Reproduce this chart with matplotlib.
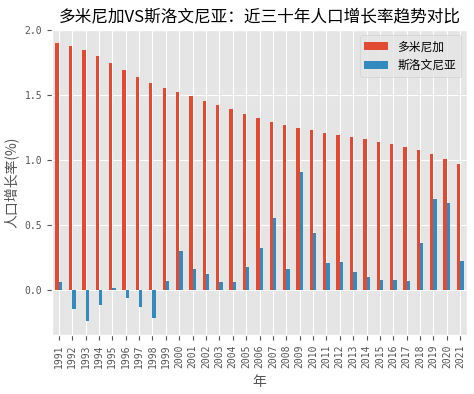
import numpy as np
import matplotlib
matplotlib.use("Agg")
import matplotlib.pyplot as plt

plt.style.use("ggplot")
plt.rcParams['font.family'] = ['Noto Sans CJK SC', 'DejaVu Sans']
plt.rcParams['axes.unicode_minus'] = False

years = list(range(1991, 2022))
dominica = [1.904, 1.884, 1.850, 1.804, 1.751, 1.697, 1.644, 1.598, 1.557, 1.524,
            1.491, 1.460, 1.427, 1.394, 1.358, 1.325, 1.297, 1.269, 1.249, 1.231,
            1.211, 1.193, 1.175, 1.160, 1.142, 1.124, 1.104, 1.081, 1.047, 1.009,
            0.973]
slovenia = [0.064, -0.145, -0.237, -0.115, 0.018, -0.064, -0.135, -0.217, 0.071, 0.296,
            0.158, 0.125, 0.061, 0.064, 0.173, 0.320, 0.558, 0.158, 0.905, 0.436,
            0.209, 0.212, 0.135, 0.099, 0.076, 0.074, 0.066, 0.364, 0.698, 0.673,
            0.219]

fig, ax = plt.subplots(figsize=(4.74, 3.94), dpi=100)
fig.subplots_adjust(left=0.11, right=0.985, top=0.925, bottom=0.15)

x = np.arange(len(years))
w = 0.25
ax.bar(x - w / 2, dominica, w, color='#E24A33', label='多米尼加')
ax.bar(x + w / 2, slovenia, w, color='#348ABD', label='斯洛文尼亚')

ax.set_xlim(-0.5, len(years) - 0.5)
ax.set_xticks(x)
ax.set_xticklabels([str(y) for y in years], rotation=90)
ax.set_yticks([0.0, 0.5, 1.0, 1.5, 2.0])
ax.set_ylim(-0.347, 2.007)
for lab in ax.get_xticklabels() + ax.get_yticklabels():
    lab.set_family('DejaVu Sans Mono')
    lab.set_fontsize(7)

ax.set_title('多米尼加VS斯洛文尼亚：近三十年人口增长率趋势对比', fontsize=12)
ax.set_xlabel('年', fontsize=10, labelpad=5)
ax.set_ylabel('人口增长率(%)', fontsize=10)
ax.legend(loc='upper right', fontsize=8.5, handlelength=2.0)

fig.savefig('out.png')
